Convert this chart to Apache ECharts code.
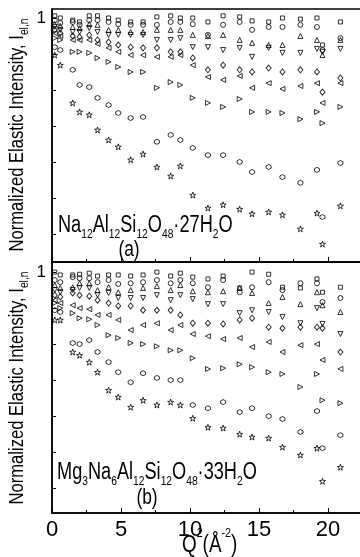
<!DOCTYPE html>
<html>
<head>
<meta charset="utf-8">
<script src="https://cdn.jsdelivr.net/npm/echarts@6/dist/echarts.min.js"></script>
<style>
  html, body { margin: 0; padding: 0; background: #fff; }
  #chart { width: 360px; height: 557px; }
</style>
</head>
<body>
<div id="chart"></div>
<script>
// Q^2 values (Å^-2), shared by both panels
const q2 = [0.2, 0.6, 1.5, 2.0, 2.7, 3.3, 4.1, 4.8, 5.7, 6.6, 7.6, 8.6, 9.3, 10.2, 11.3, 12.4, 13.6, 14.5, 15.7, 16.7, 18.0, 19.2, 19.6, 20.9];

// panel (a) Na12Al12Si12O48·27H2O
const aSquare = [1.006, 1.000, .994, .989, 1.006, 1.006, 1.000, .994, .989, .989, 1.003, 1.006, 1.000, 1.000, .989, 1.006, 1.003, .992, .989, 1.000, .997, 1.000, .925, .989];
const aCircle = [.994, .986, .989, .981, .994, .994, .989, .983, .981, .981, .981, .989, .989, .983, .953, .981, .989, .967, .975, .975, .981, .975, .911, .944];
const aUp = [.983, .978, .975, .972, .983, .981, .967, .967, .961, .961, .967, .967, .967, .953, .950, .953, .939, .931, .925, .925, .950, .939, .897, .939];
const aDown = [.975, .967, .961, .961, .972, .961, .953, .953, .953, .953, .939, .939, .944, .919, .919, .911, .917, .892, .917, .903, .903, .914, .906, .914];
const aDiamond = [.967, .958, .950, .947, .953, .939, .933, .925, .919, .917, .917, .906, .906, .889, .856, .869, .856, .850, .861, .850, .856, .850, .794, .833];
const aLeft = [.958, .950, .939, .939, .939, .928, .917, .906, .897, .897, .892, .892, .897, .869, .836, .828, .839, .806, .819, .803, .811, .819, .764, .819];
const aRight = [.944, .939, .906, .906, .903, .889, .878, .864, .850, .850, .806, .822, .814, .778, .764, .753, .775, .739, .739, .736, .719, .739, .708, .753];
const aHex = [.919, .911, .856, .814, .808, .778, .758, .736, .722, .725, .656, .675, .661, .639, .619, .619, .600, .572, .586, .558, .542, .578, .447, .597];
const aStar = [.897, .869, .764, .739, .731, .689, .661, .642, .606, .622, .586, .561, .589, .508, .472, .481, .469, .456, .461, .453, .414, .458, .372, .478];

// panel (b) Mg3Na6Al12Si12O48·33H2O
const bSquare = [1.000, .992, .992, .994, .997, .989, .992, .992, .989, .992, 1.000, .989, .997, .986, .981, .989, .956, 1.000, .994, .958, .956, .981, .944, .958];
const bCircle = [.978, .972, .986, .983, .983, .972, .978, .967, .969, .972, .978, .969, .978, .969, .958, .978, .944, .958, .972, .950, .969, .969, .917, .928];
const bUp = [.964, .956, .958, .969, .969, .950, .958, .944, .950, .956, .961, .950, .964, .947, .944, .947, .956, .942, .914, .931, .911, .944, .908, .889];
const bDown = [.950, .944, .950, .956, .956, .936, .942, .928, .928, .928, .936, .922, .936, .925, .911, .911, .886, .894, .889, .875, .858, .900, .856, .828];
const bDiamond = [.936, .931, .942, .936, .933, .922, .914, .906, .906, .894, .894, .894, .881, .858, .858, .856, .867, .872, .847, .844, .847, .847, .844, .778];
const bLeft = [.922, .914, .908, .900, .897, .881, .881, .867, .839, .853, .858, .839, .853, .828, .822, .814, .817, .792, .806, .778, .797, .800, .756, .731];
const bRight = [.914, .900, .886, .872, .869, .853, .825, .817, .803, .800, .794, .783, .783, .761, .731, .733, .744, .736, .722, .717, .681, .717, .644, .636];
const bHex = [.894, .889, .803, .800, .811, .778, .750, .722, .694, .719, .706, .700, .700, .631, .622, .639, .611, .622, .600, .592, .556, .614, .511, .547];
const bStar = [.867, .867, .778, .769, .750, .722, .672, .653, .625, .644, .631, .639, .631, .594, .569, .567, .550, .542, .539, .514, .492, .511, .419, .458];

const xTicks = [0, 5, 10, 15, 20];

const FONT = "'Liberation Sans', Arial, sans-serif";
const NARROW = 0.79; // the original lettering is a condensed Arial

// origin-like hollow symbols
const SYM = {
  square: { symbol: "rect", size: 4 },
  circle: { symbol: "circle", size: 5 },
  up: { symbol: "path://M0,-1L1,1L-1,1Z", size: 5 },
  down: { symbol: "path://M-1,-1L1,-1L0,1Z", size: 5 },
  diamond: { symbol: "diamond", size: [5, 6] },
  left: { symbol: "path://M1,-1L1,1L-1,0Z", size: 5 },
  right: { symbol: "path://M-1,-1L-1,1L1,0Z", size: 5 },
  hex: { symbol: "path://M0,-1L0.866,-0.5L0.866,0.5L0,1L-0.866,0.5L-0.866,-0.5Z", size: 5 },
  star: { symbol: "path://M0,-1L0.2245,-0.309L0.951,-0.309L0.363,0.118L0.588,0.809L0,0.382L-0.588,0.809L-0.363,0.118L-0.951,-0.309L-0.2245,-0.309Z", size: 6 }
};

function makeSeries(gridIdx, key, vals) {
  return {
    type: "scatter",
    xAxisIndex: gridIdx,
    yAxisIndex: gridIdx,
    symbol: SYM[key].symbol,
    symbolSize: SYM[key].size,
    itemStyle: { color: "transparent", borderColor: "#000", borderWidth: 1 },
    data: q2.map((q, i) => [q, vals[i]]),
    silent: true
  };
}

const panelA = [["square", aSquare], ["circle", aCircle], ["up", aUp], ["down", aDown], ["diamond", aDiamond], ["left", aLeft], ["right", aRight], ["hex", aHex], ["star", aStar]];
const panelB = [["square", bSquare], ["circle", bCircle], ["up", bUp], ["down", bDown], ["diamond", bDiamond], ["left", bLeft], ["right", bRight], ["hex", bHex], ["star", bStar]];

function xAxisOf(gridIdx, showLabels) {
  return {
    gridIndex: gridIdx,
    type: "value",
    min: 0,
    max: 25,
    interval: 5,
    axisLine: { show: true, lineStyle: { color: "#000", width: 1.5 } },
    axisTick: { show: true, inside: true, length: 5, lineStyle: { color: "#000", width: 1 } },
    minorTick: { show: true, splitNumber: 2, length: 3, lineStyle: { color: "#000", width: 1 } },
    splitLine: { show: false },
    axisLabel: {
      show: showLabels,
      customValues: xTicks,
      margin: 6,
      color: "#000",
      fontSize: 22,
      fontFamily: FONT
    }
  };
}

function yAxisOf(gridIdx, min, max) {
  return {
    gridIndex: gridIdx,
    type: "value",
    min: min,
    max: max,
    axisLine: { show: true, lineStyle: { color: "#000", width: 1.5 } },
    axisTick: { show: true, inside: true, length: 4, customValues: [0.4, 0.5, 0.6, 0.7, 0.8, 0.9, 1], lineStyle: { color: "#000", width: 1 } },
    splitLine: { show: false },
    axisLabel: { customValues: [1], margin: 6, color: "#000", fontSize: 17, fontFamily: FONT }
  };
}

// rich styles: subscript sits on the bottom of a taller line
const subRich = {
  m: { fontSize: 23, lineHeight: 27, verticalAlign: "top", fontFamily: FONT, color: "#000" },
  s: { fontSize: 13, lineHeight: 13, verticalAlign: "bottom", fontFamily: FONT, color: "#000" }
};
const yNameRich = {
  m: { fontSize: 21, lineHeight: 24, verticalAlign: "top", fontFamily: FONT, color: "#000" },
  s: { fontSize: 13, lineHeight: 13, verticalAlign: "bottom", fontFamily: FONT, color: "#000" }
};

function yName(cy) {
  return {
    type: "text", x: 19, y: cy, rotation: Math.PI / 2, scaleX: NARROW, silent: true,
    style: {
      text: "{m|Normalized Elastic Intensity, I}{s|el,n}",
      rich: yNameRich, align: "center", verticalAlign: "middle"
    }
  };
}

const chart = echarts.init(document.getElementById("chart"), null, { renderer: "canvas" });

// the plot runs past the right edge of the picture (cropped original), so the
// grid is wider than the canvas and must not be squeezed back inside it
const option = {
  animation: false,
  backgroundColor: "#fff",
  grid: [
    { left: 52, top: 9, width: 345, height: 253, outerBoundsMode: "none", show: true, borderColor: "#000", borderWidth: 1.5 },
    { left: 52, top: 262, width: 345, height: 251, outerBoundsMode: "none", show: true, borderColor: "#000", borderWidth: 1.5 }
  ],
  xAxis: [xAxisOf(0, false), xAxisOf(1, true)],
  yAxis: [yAxisOf(0, 0.322, 1.025), yAxisOf(1, 0.331, 1.028)],
  series: [
    ...panelA.map(([k, v]) => makeSeries(0, k, v)),
    ...panelB.map(([k, v]) => makeSeries(1, k, v))
  ],
  graphic: [
    {
      type: "text", x: 58, y: 214, scaleX: NARROW, silent: true,
      style: {
        text: "{m|Na}{s|12}{m|Al}{s|12}{m|Si}{s|12}{m|O}{s|48}{m|·27H}{s|2}{m|O}",
        rich: subRich, align: "left", verticalAlign: "top"
      }
    },
    {
      type: "text", x: 129, y: 250, scaleX: NARROW, silent: true,
      style: { text: "(a)", font: "22px " + FONT, fill: "#000", align: "center", verticalAlign: "middle" }
    },
    {
      type: "text", x: 57, y: 461, scaleX: NARROW, silent: true,
      style: {
        text: "{m|Mg}{s|3}{m|Na}{s|6}{m|Al}{s|12}{m|Si}{s|12}{m|O}{s|48}{m|·33H}{s|2}{m|O}",
        rich: subRich, align: "left", verticalAlign: "top"
      }
    },
    {
      type: "text", x: 147, y: 498, scaleX: NARROW, silent: true,
      style: { text: "(b)", font: "22px " + FONT, fill: "#000", align: "center", verticalAlign: "middle" }
    },
    {
      type: "text", x: 182, y: 527, scaleX: 0.82, silent: true,
      style: {
        text: "{m|Q}{p|2}{m|(Å}{p|-2}{m|)}",
        rich: {
          m: { fontSize: 23, lineHeight: 30, verticalAlign: "bottom", fontFamily: FONT, color: "#000" },
          p: { fontSize: 13, lineHeight: 13, verticalAlign: "top", fontFamily: FONT, color: "#000" }
        },
        align: "left", verticalAlign: "top"
      }
    },
    yName(135),
    yName(388)
  ]
};

chart.setOption(option);
</script>
</body>
</html>
